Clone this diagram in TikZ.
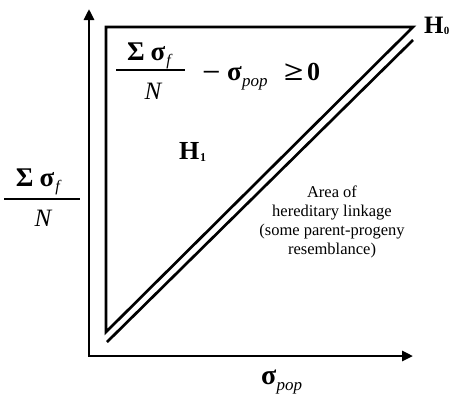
\documentclass[tikz,border=0pt]{standalone}
\usepackage{fontspec}
\setmainfont{Liberation Serif}
\usetikzlibrary{arrows.meta}
\newcommand\fsz[1]{\fontsize{#1}{#1}\selectfont}
\begin{document}
\begin{tikzpicture}[x=1pt,y=-1pt,
  heavy/.style={line width=2.7pt, line join=miter},
  bar/.style={line width=2.3pt},
  axtip/.tip={Triangle[length=11pt,width=10pt]},
  txt/.style={inner sep=0pt, outer sep=0pt, anchor=base west},
  ctxt/.style={inner sep=0pt, outer sep=0pt, anchor=base}]
\useasboundingbox (0,0) rectangle (454,394);
% axes
\coordinate (ytip) at (89,9);
\coordinate (o) at (89,356);
\coordinate (xtip) at (413,356);
\draw[heavy, axtip-axtip] (ytip) -- (o) -- (xtip);
% triangle
\coordinate (tl) at (106,27);
\coordinate (tr) at (413,27);
\coordinate (bl) at (106,332);
\draw[heavy] (tl) -- (tr) -- (bl) -- cycle;
% parallel line
\coordinate (pb) at (107,342);
\coordinate (pt) at (413,40);
\draw[heavy] (pb) -- (pt);
% H_0
\node[txt] (Ho) at (424,33) {\fsz{25}\bfseries H};
\node[txt] (Hosub) at ([xshift=0.5pt,yshift=-1.5pt]Ho.base east) {\fsz{11}\bfseries 0};
% top formula
\node[txt] (num1) at (127,60) {\fsz{27}\bfseries Σ\hspace{0.22em}σ};
\node[txt] (f1) at ([xshift=1pt,yshift=-5pt]num1.base east) {\fsz{16}\itshape f};
\coordinate (b1l) at (116,70);
\coordinate (b1r) at (185,70);
\draw[bar] (b1l) -- (b1r);
\node[ctxt] (den1) at (153,99) {\fsz{25}\itshape N};
\node[txt] (minus1) at (202,80) {\fsz{25}\bfseries\scalebox{1.3}[1]{−}};
\node[txt] (sig1) at (227,80) {\fsz{27}\bfseries σ};
\node[txt] (pop1) at ([xshift=0.5pt,yshift=-6pt]sig1.base east) {\fsz{17}\itshape pop};
\node[txt] (geq1) at (284,80) {\fsz{25}\bfseries\scalebox{1.4}[1.1]{≥}};
\node[txt] (zero1) at (307,80) {\fsz{26}\bfseries 0};
% H_1
\node[txt] (H1) at (179,159) {\fsz{26}\bfseries H};
\node[txt] (H1sub) at ([xshift=1pt,yshift=-2pt]H1.base east) {\fsz{12}\bfseries 1};
% area text
\node[ctxt] (a1) at (332,197) {\fsz{16.5}Area of};
\node[ctxt] (a2) at (332,216) {\fsz{16.5}hereditary linkage};
\node[ctxt] (a3) at (332,235) {\fsz{16.5}(some parent-progeny};
\node[ctxt] (a4) at (332,254) {\fsz{16.5}resemblance)};
% left axis label
\node[txt] (num2) at (16,186) {\fsz{27}\bfseries Σ\hspace{0.22em}σ};
\node[txt] (f2) at ([xshift=1pt,yshift=-5pt]num2.base east) {\fsz{16}\itshape f};
\coordinate (b2l) at (4,199);
\coordinate (b2r) at (80,199);
\draw[bar] (b2l) -- (b2r);
\node[ctxt] (den2) at (43,226) {\fsz{25}\itshape N};
% x-axis label
\node[txt] (sig2) at (261,384) {\fsz{28}\bfseries σ};
\node[txt] (pop2) at ([xshift=0.5pt,yshift=-6pt]sig2.base east) {\fsz{17}\itshape pop};
\end{tikzpicture}
\end{document}
